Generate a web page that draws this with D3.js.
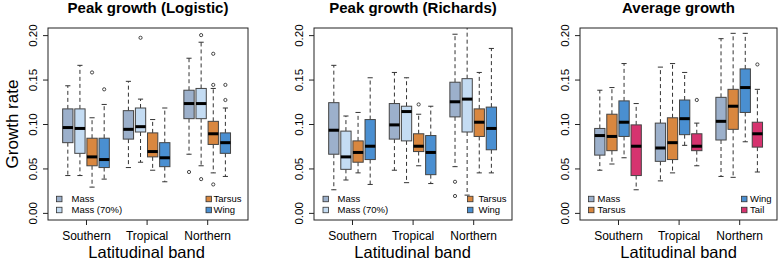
<!DOCTYPE html>
<html>
<head>
<meta charset="utf-8">
<script src="https://cdn.jsdelivr.net/npm/d3@7"></script>
<style>
  body { margin: 0; background: #fff; }
  text { font-family: "Liberation Sans", Arial, Helvetica, sans-serif; fill: #000; }
</style>
</head>
<body>
<div id="chart"></div>
<script>
const width = 778, height = 263;

// categories
const bands = ["Southern", "Tropical", "Northern"];
const yTicks = [0, 0.05, 0.10, 0.15, 0.20];

// series colours
const seriesColors = {
  "Mass": "#9cb0cb",
  "Mass (70%)": "#c4dcf3",
  "Tarsus": "#d9873f",
  "Wing": "#4a8fd1",
  "Tail": "#d6336f"
};

// box stats per series, per band: [lower whisker, Q1, median, Q3, upper whisker]
const logisticSeries = ["Mass", "Mass (70%)", "Tarsus", "Wing"];
const logisticStats = [
  [[0.042, 0.079, 0.096, 0.117, 0.143], [0.051, 0.083, 0.094, 0.115, 0.148], [0.066, 0.106, 0.123, 0.138, 0.174]],
  [[0.042, 0.067, 0.095, 0.117, 0.166], [0.057, 0.091, 0.097, 0.118, 0.128], [0.053, 0.106, 0.123, 0.140, 0.192]],
  [[0.029, 0.053, 0.063, 0.084, 0.107], [0.048, 0.063, 0.069, 0.090, 0.105], [0.045, 0.077, 0.089, 0.103, 0.140]],
  [[0.038, 0.051, 0.060, 0.084, 0.122], [0.035, 0.052, 0.062, 0.079, 0.118], [0.041, 0.067, 0.079, 0.090, 0.118]]
];
const logisticOutliers = [
  [[], [], [0.046]],
  [[], [0.197], [0.200, 0.038]],
  [[0.158], [], [0.179, 0.144, 0.032]],
  [[0.139], [], [0.144, 0.127]]
];

const richardsSeries = ["Mass", "Mass (70%)", "Tarsus", "Wing"];
const richardsStats = [
  [[0.026, 0.066, 0.093, 0.124, 0.166], [0.048, 0.083, 0.099, 0.123, 0.158], [0.052, 0.108, 0.125, 0.147, 0.201]],
  [[0.037, 0.049, 0.063, 0.092, 0.109], [0.034, 0.081, 0.114, 0.120, 0.152], [0.020, 0.091, 0.128, 0.151, 0.230]],
  [[0.045, 0.057, 0.068, 0.081, 0.113], [0.053, 0.069, 0.075, 0.089, 0.111], [0.045, 0.086, 0.102, 0.117, 0.158]],
  [[0.032, 0.060, 0.075, 0.105, 0.152], [0.033, 0.043, 0.068, 0.087, 0.120], [0.045, 0.071, 0.095, 0.119, 0.185]]
];
const richardsOutliers = [
  [[], [], [0.035, 0.019]],
  [[], [], []],
  [[], [0.122], []],
  [[], [], []]
];

const averageSeries = ["Mass", "Tarsus", "Wing", "Tail"];
const averageStats = [
  [[0.048, 0.065, 0.087, 0.095, 0.138], [0.036, 0.058, 0.073, 0.101, 0.164], [0.041, 0.082, 0.103, 0.130, 0.196]],
  [[0.055, 0.070, 0.086, 0.111, 0.141], [0.045, 0.060, 0.079, 0.107, 0.168], [0.040, 0.094, 0.120, 0.139, 0.202]],
  [[0.062, 0.086, 0.102, 0.126, 0.168], [0.076, 0.088, 0.106, 0.127, 0.158], [0.080, 0.113, 0.141, 0.162, 0.202]],
  [[0.026, 0.042, 0.075, 0.099, 0.123], [0.053, 0.070, 0.075, 0.089, 0.101], [0.046, 0.074, 0.089, 0.102, 0.139]]
];
const averageOutliers = [
  [[], [], []],
  [[], [], []],
  [[], [], []],
  [[], [0.127], [0.167]]
];

// legend split: first two entries bottom-left, last two bottom-right
const panels = [
  { title: "Peak growth (Logistic)", series: logisticSeries, stats: logisticStats, outliers: logisticOutliers,
    left: 48, w: 200, leg: { lSq: 8.5, lTx: 23.5, rSq: 158, rTx: 165.5 } },
  { title: "Peak growth (Richards)", series: richardsSeries, stats: richardsStats, outliers: richardsOutliers,
    left: 314, w: 198, leg: { lSq: 9, lTx: 23.5, rSq: 153.5, rTx: 164.5 } },
  { title: "Average growth", series: averageSeries, stats: averageStats, outliers: averageOutliers,
    left: 580, w: 197, leg: { lSq: 8.5, lTx: 17.5, rSq: 161.5, rTx: 170 } }
];

const plotTop = 28, plotBottom = 220;
const unit = 12.12, xMin = -0.635; // px per box slot, left data limit

const svg = d3.select("#chart")
  .append("svg")
  .attr("width", width)
  .attr("height", height)
  .attr("viewBox", [0, 0, width, height]);

const y = d3.scaleLinear().domain([-0.008, 0.208]).range([plotBottom, plotTop]);

// y axis title, only on first panel
svg.append("text")
  .attr("transform", `translate(18,${(plotTop + plotBottom) / 2}) rotate(-90)`)
  .attr("text-anchor", "middle")
  .style("font-size", "17px")
  .text("Growth rate");

panels.forEach((p, pi) => {
  const plotW = p.w;
  const x = d3.scaleLinear().domain([xMin, xMin + plotW / unit]).range([0, plotW]);
  const boxW = x(0.85) - x(0);
  const g = svg.append("g").attr("transform", `translate(${p.left},0)`);

  g.append("clipPath").attr("id", "clip" + pi)
    .append("rect").attr("x", 0).attr("y", plotTop).attr("width", plotW).attr("height", plotBottom - plotTop);

  // title
  g.append("text")
    .attr("x", plotW / 2).attr("y", 13)
    .attr("text-anchor", "middle")
    .style("font-size", "15px").style("font-weight", "bold")
    .text(p.title);

  // y axis
  const ya = g.append("g").call(d3.axisLeft(y).tickValues(yTicks).tickFormat(d3.format(".2f")).tickSize(5));
  ya.select(".domain").remove();
  ya.selectAll("line").attr("stroke", "#222");
  ya.selectAll("text")
    .attr("transform", "rotate(-90)")
    .attr("x", 0).attr("y", -11).attr("dy", 0)
    .attr("text-anchor", "middle")
    .style("font-size", "11.5px").style("font-family", "Liberation Sans, Arial, sans-serif").attr("fill", "#000");

  // x axis
  const xa = g.append("g").attr("transform", `translate(0,${plotBottom})`)
    .call(d3.axisBottom(x).tickValues([2.5, 7.5, 12.5]).tickFormat((d, i) => bands[i]).tickSize(5));
  xa.select(".domain").remove();
  xa.selectAll("line").attr("stroke", "#222");
  xa.selectAll("text")
    .attr("y", 20).attr("dy", 0)
    .style("font-size", "12px").style("font-family", "Liberation Sans, Arial, sans-serif").attr("fill", "#000");

  g.append("text")
    .attr("x", x(7.5)).attr("y", 258)
    .attr("text-anchor", "middle")
    .style("font-size", "16.5px")
    .text("Latitudinal band");

  const plot = g.append("g").attr("clip-path", `url(#clip${pi})`);

  p.series.forEach((name, si) => {
    bands.forEach((band, bi) => {
      const [lo, q1, med, q3, hi] = p.stats[si][bi];
      const cx = x(1 + bi * 5 + si);
      const b = plot.append("g");
      // whiskers
      b.append("line").attr("x1", cx).attr("x2", cx).attr("y1", y(q3)).attr("y2", y(hi))
        .attr("stroke", "#333").attr("stroke-dasharray", "4,3");
      b.append("line").attr("x1", cx).attr("x2", cx).attr("y1", y(q1)).attr("y2", y(lo))
        .attr("stroke", "#333").attr("stroke-dasharray", "4,3");
      [lo, hi].forEach(v => {
        b.append("line").attr("x1", cx - boxW / 4).attr("x2", cx + boxW / 4)
          .attr("y1", y(v)).attr("y2", y(v)).attr("stroke", "#333");
      });
      // box
      b.append("rect")
        .attr("x", cx - boxW / 2).attr("y", y(q3))
        .attr("width", boxW).attr("height", y(q1) - y(q3))
        .attr("fill", seriesColors[name]).attr("stroke", "#444").attr("stroke-width", 1);
      b.append("line").attr("x1", cx - boxW / 2).attr("x2", cx + boxW / 2)
        .attr("y1", y(med)).attr("y2", y(med)).attr("stroke", "#000").attr("stroke-width", 3);
      // outliers
      b.selectAll("circle").data(p.outliers[si][bi]).join("circle")
        .attr("cx", cx).attr("cy", d => y(d)).attr("r", 1.6)
        .attr("fill", "none").attr("stroke", "#333").attr("stroke-width", 0.9);
    });
  });

  // frame
  g.append("rect").attr("x", 0).attr("y", plotTop).attr("width", plotW).attr("height", plotBottom - plotTop)
    .attr("fill", "none").attr("stroke", "#222").attr("stroke-width", 1);

  // legends
  const rows = [199, 210];
  p.series.forEach((name, si) => {
    const right = si >= 2;
    const ry = rows[si % 2];
    const sx = right ? p.leg.rSq : p.leg.lSq;
    const tx = right ? p.leg.rTx : p.leg.lTx;
    g.append("rect").attr("x", sx).attr("y", ry - 2.75).attr("width", 5.5).attr("height", 5.5)
      .attr("fill", seriesColors[name]).attr("stroke", "#333").attr("stroke-width", 0.8);
    g.append("text").attr("x", tx).attr("y", ry + 3.4)
      .style("font-size", "9.5px").text(name);
  });
});
</script>
</body>
</html>
